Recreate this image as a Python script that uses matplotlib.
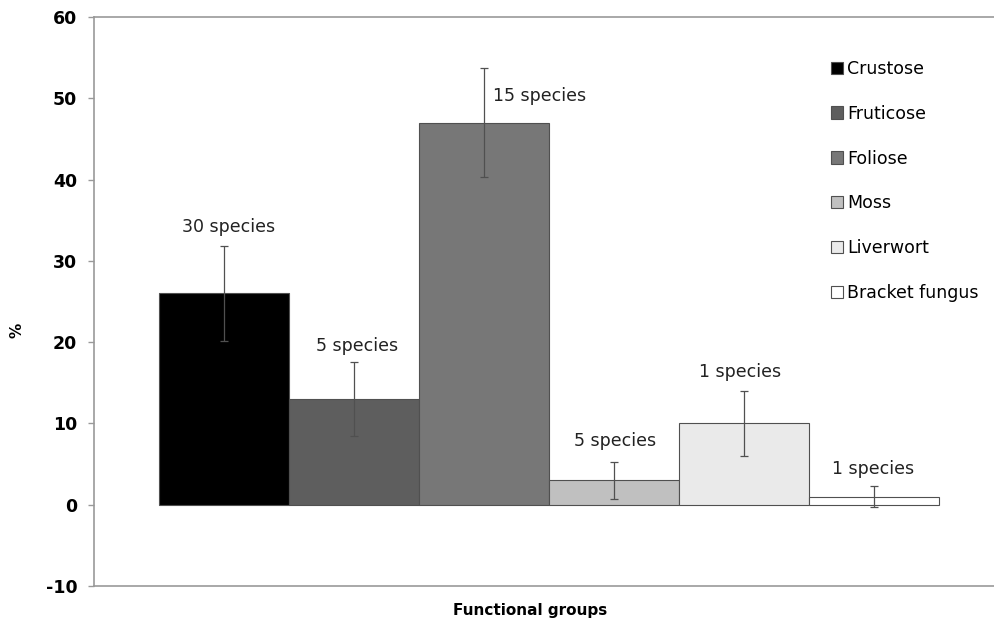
import numpy as np
import matplotlib.pyplot as plt

# mean cover (%) per functional group, with error bar half-widths
groups = ['Crustose', 'Fruticose', 'Foliose', 'Moss', 'Liverwort', 'Bracket fungus']
cover = [26.0, 13.0, 47.0, 3.0, 10.0, 1.0]
errors = [5.8, 4.5, 6.7, 2.3, 4.0, 1.3]
n_species = [30, 5, 15, 5, 1, 1]

colors = ['#000000', '#5e5e5e', '#777777', '#c0c0c0', '#eaeaea', '#ffffff']
# where each "n species" note sits relative to the top of its error bar (pixels)
note_offsets = [(5, 19), (3, 16), (56, -28), (1, 21), (-4, 19), (-1, 17)]

plt.rcParams['font.family'] = 'DejaVu Sans'
plt.rcParams['axes.unicode_minus'] = False

fig = plt.figure(figsize=(9.94, 6.21), dpi=100)
ax = fig.add_axes([94 / 994, 35 / 621, 910 / 994, 569 / 621])

x = np.arange(len(groups))
bars = ax.bar(x, cover, width=1.0, color=colors, edgecolor='#505050',
              linewidth=0.8, label=groups, zorder=2)
ax.errorbar(x, cover, yerr=errors, fmt='none', ecolor='#505050',
            elinewidth=0.9, capsize=3, capthick=0.9, zorder=3)

for xi, v, e, n, off in zip(x, cover, errors, n_species, note_offsets):
    ax.annotate(f'{n} species', xy=(xi, v + e), xytext=off,
                textcoords='offset pixels', ha='center', va='center',
                fontsize=12.5, color='#222222')

ax.set_xlim(-1, 6)
ax.set_ylim(-10, 60)
ax.set_yticks(range(-10, 61, 10))
ax.set_xticks([])

ax.spines['right'].set_visible(False)
for side in ['left', 'top', 'bottom']:
    ax.spines[side].set_color('#999999')
    ax.spines[side].set_linewidth(1.2)
ax.tick_params(axis='y', length=4, width=1, color='#999999', pad=8)
for lbl in ax.get_yticklabels():
    lbl.set_fontsize(12.5)
    lbl.set_fontweight('bold')

ax.set_xlabel('Functional groups', fontsize=11, fontweight='bold')
ax.xaxis.set_label_coords((530 - 94) / 910, -0.03)
ax.set_ylabel('%', fontsize=11, fontweight='bold')
ax.yaxis.set_label_coords((25 - 94) / 910, 0.45)

ax.legend(loc='upper left', bbox_to_anchor=(822 / 994, 1 - 51 / 621),
          bbox_transform=fig.transFigure, frameon=False, fontsize=12.5,
          handlelength=0.7, handleheight=0.7, handletextpad=0.25,
          labelspacing=1.55, borderpad=0)

fig.savefig('out.png', dpi=100)
